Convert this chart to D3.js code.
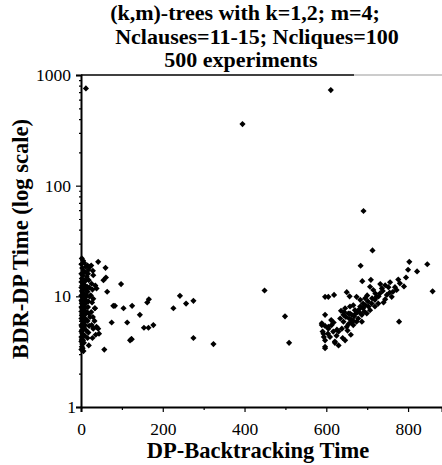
<!DOCTYPE html>
<html>
<head>
<meta charset="utf-8">
<script src="https://cdn.jsdelivr.net/npm/d3@7"></script>
<style>
	body { margin: 0; background: #fff; }
	svg { display: block; }
	svg text { font-family: 'Liberation Serif', 'Times New Roman', Times, serif; }
</style>
</head>
<body>
<svg id="chart"></svg>
<script>
// DP-Backtracking time vs BDR-DP time, one [dp, bdr] pair per run
let nearZero = [
	[2, 22], [5, 21], [1, 19.5], [8, 20], [3, 18], [12, 18.5], [6, 17], [1, 16], [10, 16.5], [4, 15.5],
	[14, 15], [2, 14.5], [7, 14], [1, 13.5], [11, 13.8], [5, 13], [3, 12.5], [9, 12.6], [15, 12.2], [1, 12],
	[6, 11.7], [2, 11.2], [12, 11.4], [4, 10.8], [8, 10.5], [1, 10.2], [14, 10.1], [3, 9.9], [6, 9.6], [10, 9.4],
	[1, 9.2], [4, 9], [13, 8.8], [2, 8.6], [8, 8.4], [5, 8.2], [1, 8], [11, 7.9], [3, 7.7], [7, 7.5],
	[1, 7.3], [15, 7.2], [4, 7], [9, 6.8], [2, 6.7], [6, 6.5], [1, 6.3], [12, 6.2], [3, 6], [8, 5.9],
	[5, 5.7], [1, 5.5], [10, 5.5], [2, 5.3], [7, 5.2], [4, 5], [1, 4.8], [13, 4.9], [3, 4.6], [6, 4.5],
	[1, 4.3], [9, 4.4], [2, 4.1], [5, 4], [1, 3.9], [3, 3.7], [7, 3.8], [2, 3.5], [4, 3.4], [1, 3.3],
	[6, 3.2], [16, 19], [18, 17.3], [22, 18.5], [17, 16], [19, 14], [20, 12], [16, 11], [21, 10], [18, 9],
	[17, 8], [19, 7], [22, 6.5], [16, 6], [20, 5.4], [18, 4.7], [16, 4.2], [19, 3.6],
	[25, 19], [30, 15.5], [26, 13], [35, 12.5], [28, 11.5], [38, 11.8], [24, 10.2], [30, 9.5], [27, 8.8], [34, 7.8],
	[25, 7.2], [29, 6.5], [33, 6], [26, 5.5], [30, 5.1], [38, 5.3], [42, 5.1], [36, 4.5], [44, 4.6], [28, 4.2],
	[42, 20.5], [60, 18.1], [29, 17], [61, 14.8], [55, 14], [98, 12.9], [64, 11], [79, 8.2], [83, 8.2], [104, 7.8],
	[34, 7.8], [75, 5.8], [113, 5.8], [120, 4], [124, 4.1], [57, 3.3], [12, 757]
]

let middle = [
	[125, 8.2], [166, 9.4], [162, 8.8], [144, 6.8], [154, 5.2], [165, 5.2], [177, 5.5], [123, 4.1],
	[242, 10.1], [226, 7.8], [257, 8.6], [275, 9.1], [275, 4.2], [324, 3.7],
	[395, 360], [449, 11.3], [499, 6.6], [509, 3.8]
]

let farRight = [
	[611, 731], [691, 59], [713, 26], [684, 18.9], [803, 20.5], [847, 19.5], [800, 17.4], [822, 16.8],
	[688, 13.7], [709, 14.1], [707, 12.2], [715, 11.4], [756, 13.4], [752, 12.1], [780, 13.1], [768, 12.1],
	[763, 11], [748, 10.3], [744, 9.4], [731, 10.6], [723, 9.9], [719, 9.3], [711, 8.6], [703, 8.1],
	[707, 7.5], [695, 9.6], [693, 7.3], [687, 6.8], [678, 6.3], [674, 5.9], [666, 5.5], [662, 6.1],
	[654, 7], [646, 7.8], [658, 8.1], [666, 8.3], [670, 7.5], [650, 10.9], [657, 10],
	[597, 9.9], [605, 9.9], [619, 10.3], [597, 6.8], [589, 5.7], [597, 5.4], [591, 4.8], [605, 5.1],
	[613, 5.5], [617, 4.8], [594, 4.3], [597, 3.5], [621, 3.9], [630, 3.6], [646, 4], [660, 4.5],
	[778, 5.9], [860, 11.1], [634, 6.3], [642, 6.8], [642, 5.9], [650, 5.3], [638, 5.1], [630, 4.8],
	[609, 4.3], [683, 9.3], [674, 9.9], [736, 11.8], [744, 12.6], [760, 9.9], [772, 11.4], [727, 8.6],
	[719, 8.1], [683, 8.1], [699, 7], [687, 5.9], [658, 7], [589, 5.5], [605, 5.3], [593, 4.6],
	[597, 4], [597, 3.4], [621, 3.8], [625, 4.4], [640, 4.2], [652, 4.9], [676, 7.2], [690, 8.6],
	[700, 10.2], [728, 10], [740, 8.8], [755, 10.8], [790, 12.3], [776, 14.2], [795, 14.8], [732, 12.9],
	[636, 7.4], [644, 7.2], [648, 6.5], [656, 6.3], [662, 6.8], [668, 6.6], [672, 7], [680, 7.6],
	[684, 7], [660, 5.8], [654, 5.6], [666, 6], [690, 7.8], [696, 8.3], [702, 9], [712, 9.6],
	[720, 10.6], [738, 11.2], [626, 5], [618, 5.8], [612, 6.1], [604, 4.6]
]

let xMajor = [0, 200, 400, 600, 800]
let xMinor = [100, 300, 500, 700]
let yMajor = [1, 10, 100, 1000]
let yMinor = [2, 3, 4, 5, 6, 7, 8, 9, 20, 30, 40, 50, 60, 70, 80, 90, 200, 300, 400, 500, 600, 700, 800, 900]

let titleLines = ['(k,m)-trees with k=1,2; m=4;', 'Nclauses=11-15; Ncliques=100', '500 experiments']
let xLabel = 'DP-Backtracking Time'
let yLabel = 'BDR-DP Time (log scale)'

let W = 442, H = 465
let plotL = 81, plotR = 442, plotT = 75, plotB = 407
let serif = "'Liberation Serif', 'Times New Roman', Times, serif"

let svg = d3.select('#chart')
	.attr('width', W)
	.attr('height', H)

let x = d3.scaleLinear().domain([0, 883]).range([plotL, plotR])
let y = d3.scaleLog().domain([1, 1000]).range([plotB, plotT])

// title, three lines each centred on its own spot
let titleX = [245, 257, 241]
let titleY = [20, 44, 67]
svg.selectAll('.title')
	.data(titleLines).enter().append('text')
	.attr('class', 'title')
	.attr('x', (d, i) => titleX[i])
	.attr('y', (d, i) => titleY[i])
	.attr('text-anchor', 'middle')
	.style('font-family', serif)
	.style('font-weight', 'bold')
	.style('font-size', '22px')
	.text(d => d)

// top frame line
svg.append('line')
	.attr('x1', plotL).attr('x2', 354).attr('y1', plotT).attr('y2', plotT)
	.attr('stroke', '#000').attr('stroke-width', 1.5)
svg.append('line')
	.attr('x1', 354).attr('x2', plotR).attr('y1', plotT).attr('y2', plotT)
	.attr('stroke', '#999').attr('stroke-width', 1)

// x axis
let gx = svg.append('g').attr('transform', `translate(0, ${plotB})`)
gx.call(d3.axisBottom(x).tickValues(xMajor).tickSize(5).tickPadding(11).tickFormat(d3.format('d')))
let gxMinor = svg.append('g').attr('transform', `translate(0, ${plotB})`)
	.call(d3.axisBottom(x).tickValues(xMinor).tickSize(3))
gxMinor.select('.domain').remove()
gxMinor.selectAll('.tick text').remove()

// y axis
let gy = svg.append('g').attr('transform', `translate(${plotL}, 0)`)
gy.call(d3.axisLeft(y).tickValues(yMajor).tickSize(5).tickPadding(5).tickFormat(d3.format('d')))
let gyMinor = svg.append('g').attr('transform', `translate(${plotL}, 0)`)
	.call(d3.axisLeft(y).tickValues(yMinor).tickSize(2))
gyMinor.select('.domain').remove()
gyMinor.selectAll('.tick text').remove()

svg.selectAll('.domain').attr('stroke-width', 2).attr('stroke', '#000')
svg.selectAll('.tick line').attr('stroke', '#000').attr('stroke-width', 1.2)
svg.selectAll('.tick text')
	.attr('fill', '#000')
	.style('font-family', serif)
	.style('font-size', '17.5px')
// the "1" sits tight against the corner
gy.selectAll('.tick text').filter(d => d === 1).attr('dx', 5)

// axis titles
svg.append('text')
	.attr('x', 258).attr('y', 458)
	.attr('text-anchor', 'middle')
	.style('font-family', serif)
	.style('font-weight', 'bold')
	.style('font-size', '22.5px')
	.text(xLabel)

svg.append('text')
	.attr('transform', 'translate(28, 239) rotate(-90)')
	.attr('text-anchor', 'middle')
	.style('font-family', serif)
	.style('font-weight', 'bold')
	.style('font-size', '22.5px')
	.text(yLabel)

// the runs, drawn as diamonds
let runs = nearZero.concat(middle, farRight)
let diamond = d3.symbol(d3.symbolSquare, 19)
svg.append('g').selectAll('path')
	.data(runs).enter().append('path')
	.attr('d', diamond)
	.attr('transform', d => `translate(${x(d[0])}, ${y(d[1])}) rotate(45)`)
	.attr('fill', '#000')
</script>
</body>
</html>
